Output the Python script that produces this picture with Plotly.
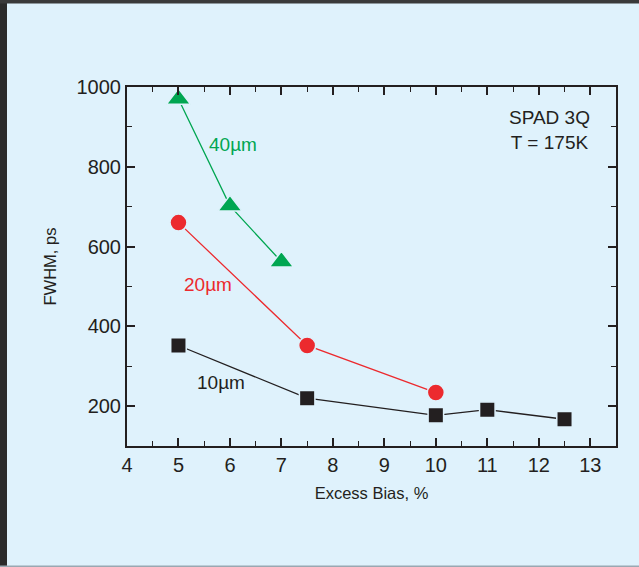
import plotly.graph_objects as go

x40 = [5, 6, 7]
y40 = [970, 702, 562]
x20 = [5, 7.5, 10]
y20 = [660, 352, 234]
x10 = [5, 7.5, 10, 11, 12.5]
y10 = [352, 220, 177, 191, 167]

BG = "#dff2fc"
GREEN = "#00a651"
RED = "#ec2a2e"
BLACK = "#231f20"
FONT = "Liberation Sans, Arial, sans-serif"

fig = go.Figure()
fig.add_trace(go.Scatter(x=x40, y=y40, mode="lines+markers",
                         line=dict(color=GREEN, width=1.3),
                         marker=dict(symbol="triangle-up", size=21, color=GREEN,
                                     line=dict(color=BG, width=1.5))))
fig.add_trace(go.Scatter(x=x20, y=y20, mode="lines+markers",
                         line=dict(color=RED, width=1.3),
                         marker=dict(symbol="circle", size=17, color=RED,
                                     line=dict(color=BG, width=1.5))))
fig.add_trace(go.Scatter(x=x10, y=y10, mode="lines+markers",
                         line=dict(color=BLACK, width=1.3),
                         marker=dict(symbol="square", size=15.5, color=BLACK,
                                     line=dict(color=BG, width=1.5))))

annots = [
    dict(x=6.05, y=857, text="40µm", color=GREEN),
    dict(x=5.57, y=505, text="20µm", color=RED),
    dict(x=5.82, y=260, text="10µm", color=BLACK),
]
for a in annots:
    fig.add_annotation(x=a["x"], y=a["y"], text=a["text"], showarrow=False,
                       font=dict(size=19, color=a["color"], family=FONT))
fig.add_annotation(x=12.2, y=892, text="SPAD 3Q<br>T = 175K", showarrow=False,
                   align="center", font=dict(size=19, color=BLACK, family=FONT))

axis_common = dict(showline=True, linecolor=BLACK, linewidth=2, mirror="ticks",
                   ticks="inside", ticklen=8, tickwidth=1.5, tickcolor=BLACK,
                   showgrid=False, zeroline=False,
                   tickfont=dict(size=20, color=BLACK, family=FONT))

fig.update_xaxes(range=[4, 13.5], dtick=1, tick0=4,
                 minor=dict(ticks="inside", ticklen=5, tickwidth=1.2, tickcolor=BLACK, dtick=0.5, showgrid=False),
                 title=dict(text="Excess Bias, %", font=dict(size=16.5, color=BLACK, family=FONT), standoff=12),
                 **axis_common)
fig.update_yaxes(range=[100, 1000], dtick=200, tick0=0,
                 minor=dict(ticks="inside", ticklen=5, tickwidth=1.2, tickcolor=BLACK, dtick=100, showgrid=False),
                 title=dict(text="FWHM, ps", font=dict(size=16.5, color=BLACK, family=FONT), standoff=16),
                 **axis_common)

W, H = 639, 567
L, R, T, B = 127, 23, 87, 121
pw, ph = W - L - R, H - T - B

def px(xp):
    return (xp - L) / pw

def py(yp):
    return (H - B - yp) / ph

# outer frame: thick dark left and top, thin grey bottom
fig.add_shape(type="rect", xref="paper", yref="paper", x0=px(0), x1=px(7), y0=py(567), y1=py(0),
              fillcolor="#2b2b2b", line=dict(width=0), layer="above")
fig.add_shape(type="rect", xref="paper", yref="paper", x0=px(0), x1=px(639), y0=py(3.5), y1=py(0),
              fillcolor="#3a3a3a", line=dict(width=0), layer="above")
fig.add_shape(type="rect", xref="paper", yref="paper", x0=px(0), x1=px(639), y0=py(567), y1=py(565.5),
              fillcolor="#9aa8b2", line=dict(width=0), layer="above")

fig.update_layout(width=W, height=H, margin=dict(l=L, r=R, t=T, b=B),
                  paper_bgcolor=BG, plot_bgcolor=BG, showlegend=False,
                  font=dict(family=FONT, color=BLACK))

fig.write_html("out.html")
